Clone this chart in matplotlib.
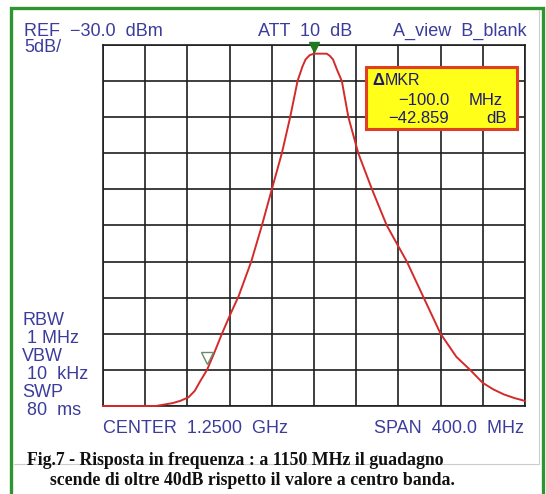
import matplotlib
matplotlib.use('Agg')
import matplotlib.pyplot as plt
from matplotlib.patches import Rectangle
from matplotlib.lines import Line2D

# trace (MHz, dBm)
freq_mhz = [1050, 1100, 1108, 1116, 1123, 1131, 1137, 1142, 1148.6, 1155,
            1162.7, 1171, 1178.5, 1190.5, 1200.6, 1210, 1219.5, 1227.4,
            1234.4, 1239, 1242, 1246, 1250, 1262, 1265, 1268, 1272, 1276.4,
            1282.6, 1292, 1305, 1319, 1338, 1354, 1370, 1385, 1398, 1410,
            1420, 1430, 1440, 1450]
level_dbm = [-80, -80, -79.8, -79.6, -79.3, -78.8, -77.9, -76.6, -75.0, -72.8,
             -70.0, -67.2, -64.8, -60.0, -55.0, -50.0, -45.0, -40.0,
             -35.0, -33.0, -32.0, -31.4, -31.2, -31.2, -31.5, -32.0, -33.5, -35.0,
             -40.0, -45.0, -50.0, -55.0, -60.0, -65.0, -70.0, -73.2, -75.0, -76.8,
             -77.7, -78.4, -78.9, -79.3]

x_ticks = [1050 + 40 * i for i in range(11)]
y_ticks = [-80 + 5 * i for i in range(11)]
peak_mhz, peak_dbm = 1250, -30.3
mkr_mhz, mkr_dbm = 1148.6, -73.3

W, H = 546, 494
BLUE = '#3c3c9c'
NAVY = '#1c1c6e'


def fx(x):
    return x / W


def fy(y):
    return 1 - y / H


fig = plt.figure(figsize=(W / 100, H / 100), dpi=100)
fig.patch.set_facecolor('white')

# outer frames
fig.add_artist(Line2D([fx(14), fx(539), fx(539)], [fy(464), fy(464), fy(10)],
                      color='#cccccc', lw=0.8))
fig.add_artist(Rectangle((fx(11), fy(500)), fx(532), fy(8) - fy(500), fill=False,
                         edgecolor='#2f962f', lw=2.4))

ax = fig.add_axes([fx(103), fy(406), fx(525) - fx(103), fy(45) - fy(406)])
ax.set_xlim(1050, 1450)
ax.set_ylim(-80, -30)
ax.set_xticks(x_ticks)
ax.set_yticks(y_ticks)
ax.tick_params(length=0, labelbottom=False, labelleft=False)
ax.grid(True, color='#1e1e1e', lw=1.2)
for s in ax.spines.values():
    s.set_color('#1e1e1e')
    s.set_linewidth(1.2)

ax.plot(freq_mhz, level_dbm, color='#d42a2a', lw=1.4, zorder=3, clip_on=False)
ax.plot([peak_mhz], [peak_dbm], marker='v', color='#1f7a1f', markersize=7,
        clip_on=False, zorder=4)
ax.plot([mkr_mhz], [mkr_dbm], marker='v', markerfacecolor='none',
        markeredgecolor='#6b8a6b', markersize=8, mew=1.0, zorder=4)

# delta marker readout box
fig.add_artist(Rectangle((fx(366), fy(129)), fx(517) - fx(366), fy(67) - fy(129),
                         facecolor='#ffff1a', edgecolor='#e04020', lw=2.2, zorder=5))

sans = 'Liberation Sans'
fs = 13
fig.text(fx(372), fy(85), 'Δ', color=NAVY, fontsize=12, family=sans,
         fontweight='bold', zorder=6)
fig.text(fx(385), fy(85), 'MKR', color=NAVY, fontsize=11.5, family=sans, zorder=6)
fig.text(fx(398), fy(105), '−100.0', color=NAVY, fontsize=12, family=sans, zorder=6)
fig.text(fx(503), fy(105), 'MHz', color=NAVY, fontsize=12, family=sans, ha='right', zorder=6)
fig.text(fx(388), fy(122.7), '−42.859', color=NAVY, fontsize=12, family=sans, zorder=6)
fig.text(fx(507), fy(122.7), 'dB', color=NAVY, fontsize=12, family=sans, ha='right', zorder=6)

# analyser annotations
fig.text(fx(24), fy(36), 'REF  −30.0  dBm', color=BLUE, fontsize=fs, family=sans)
fig.text(fx(24), fy(51.7), '5dB/', color=BLUE, fontsize=fs, family=sans)
fig.text(fx(258), fy(36), 'ATT  10  dB', color=BLUE, fontsize=fs, family=sans)
fig.text(fx(527), fy(36), 'A_view  B_blank', color=BLUE, fontsize=fs, family=sans, ha='right')

side_labels = ['RBW', ' 1 MHz', 'VBW', ' 10  kHz', 'SWP', ' 80  ms']
side_base = [325, 343, 361, 379, 397, 415]
for lab, yb in zip(side_labels, side_base):
    fig.text(fx(22), fy(yb), lab, color=BLUE, fontsize=fs, family=sans)

fig.text(fx(103), fy(433), 'CENTER  1.2500  GHz', color=BLUE, fontsize=fs, family=sans)
fig.text(fx(524), fy(433), 'SPAN  400.0  MHz', color=BLUE, fontsize=fs, family=sans, ha='right')

# caption
fig.text(fx(27), fy(465), 'Fig.7 - Risposta in frequenza : a 1150 MHz il guadagno',
         family='Liberation Serif', fontweight='bold', fontsize=12.8, color='#111111')
fig.text(fx(50), fy(485), 'scende di oltre 40dB rispetto il valore a centro banda.',
         family='Liberation Serif', fontweight='bold', fontsize=12.8, color='#111111')

fig.savefig('out.png', dpi=100)
